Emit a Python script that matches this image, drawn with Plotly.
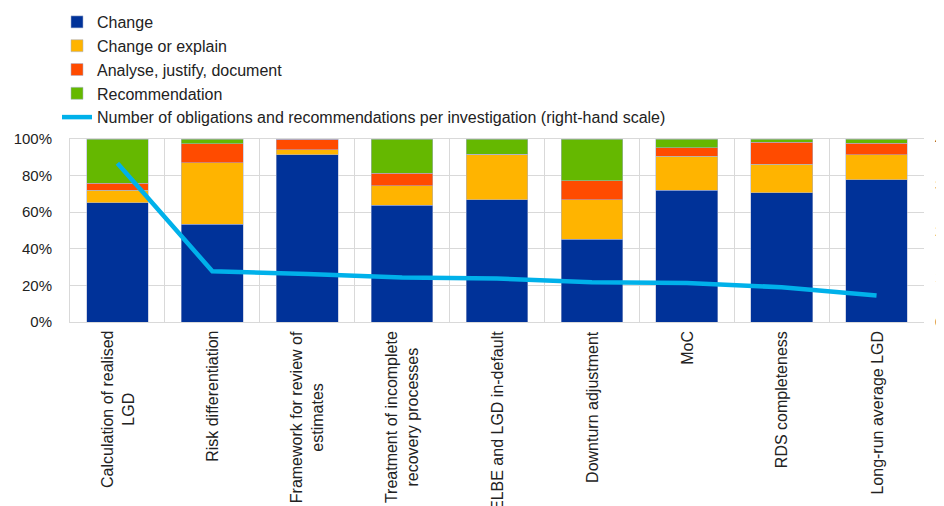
import plotly.graph_objects as go

categories = [
    "Calculation of realised<br>LGD",
    "Risk differentiation",
    "Framework for review of<br>estimates",
    "Treatment of incomplete<br>recovery processes",
    "ELBE and LGD in-default",
    "Downturn adjustment",
    "MoC",
    "RDS completeness",
    "Long-run average LGD",
]
change = [65.1, 53.3, 91.4, 63.7, 66.8, 45.3, 72.1, 70.6, 77.6]
change_or_explain = [6.8, 33.8, 2.6, 10.8, 24.8, 21.4, 18.6, 15.7, 13.7]
analyse = [3.8, 10.4, 6.0, 6.8, 0.0, 10.6, 4.6, 11.9, 6.4]
recommendation = [24.3, 2.5, 0.0, 18.7, 8.4, 22.7, 4.7, 1.8, 2.3]
per_investigation = [3.47, 1.11, 1.05, 0.97, 0.95, 0.87, 0.85, 0.76, 0.58]

series = [
    ("Change", change, "#003299"),
    ("Change or explain", change_or_explain, "#ffb400"),
    ("Analyse, justify, document", analyse, "#ff4b00"),
    ("Recommendation", recommendation, "#65b800"),
]

FONT = "Liberation Sans, Arial, sans-serif"
W, H = 944, 506
OFF = 8  # page body margin offset
ML, MR, MT, MB = 70 - OFF, 20 + OFF, 139 - OFF, 184 + OFF
PW, PH = W - ML - MR, H - MT - MB
LEG_TOP_PX = -3
LEG_LEFT_PX = 49

fig = go.Figure()
for name, vals, col in series:
    fig.add_trace(go.Bar(
        x=categories, y=vals, name=name,
        marker=dict(color=col, line=dict(color="rgba(170,180,210,0.9)", width=0.6)),
    ))
fig.add_trace(go.Scatter(
    x=categories, y=per_investigation, yaxis="y2", mode="lines",
    name="Number of obligations and recommendations per investigation (right-hand scale)",
    line=dict(color="#00b1ea", width=4.5),
))

# category labels as centred, rotated annotations
for c in categories:
    fig.add_annotation(
        x=c, xref="x", y=0, yref="paper", yanchor="top", xanchor="center",
        yshift=-7, text=c, textangle=-90, align="center", showarrow=False,
        font=dict(family=FONT, size=16, color="#222222"),
    )

fig.update_layout(
    width=W, height=H,
    margin=dict(l=ML, r=MR, t=MT, b=MB, autoexpand=False),
    barmode="stack", bargap=0.35,
    plot_bgcolor="white", paper_bgcolor="white",
    font=dict(family=FONT, size=16, color="#222222"),
    legend=dict(
        x=(LEG_LEFT_PX - ML) / PW, xref="paper", xanchor="left",
        y=(H - MB - LEG_TOP_PX) / PH, yref="paper", yanchor="top",
        traceorder="normal", font=dict(size=16, color="#222222"),
        bgcolor="rgba(0,0,0,0)", tracegroupgap=0,
    ),
    xaxis=dict(
        type="category", tickson="boundaries",
        showgrid=True, gridcolor="#d9d9d9", gridwidth=1,
        showline=True, linecolor="#d9d9d9", mirror=True,
        ticks="", showticklabels=False, automargin=False,
    ),
    yaxis=dict(
        range=[0, 100], dtick=20, ticksuffix="%",
        showgrid=True, gridcolor="#d9d9d9", gridwidth=1,
        showline=True, linecolor="#d9d9d9",
        ticks="", ticklabelstandoff=14, tickfont=dict(size=15),
        zeroline=False, automargin=False,
    ),
    yaxis2=dict(
        overlaying="y", side="right", range=[0, 4], dtick=1,
        showgrid=False, ticks="", ticklabelstandoff=10,
        tickfont=dict(size=15.5), zeroline=False, showline=False,
        automargin=False, ticklabeloverflow="allow",
    ),
    showlegend=True,
)

fig.write_html("out.html")
